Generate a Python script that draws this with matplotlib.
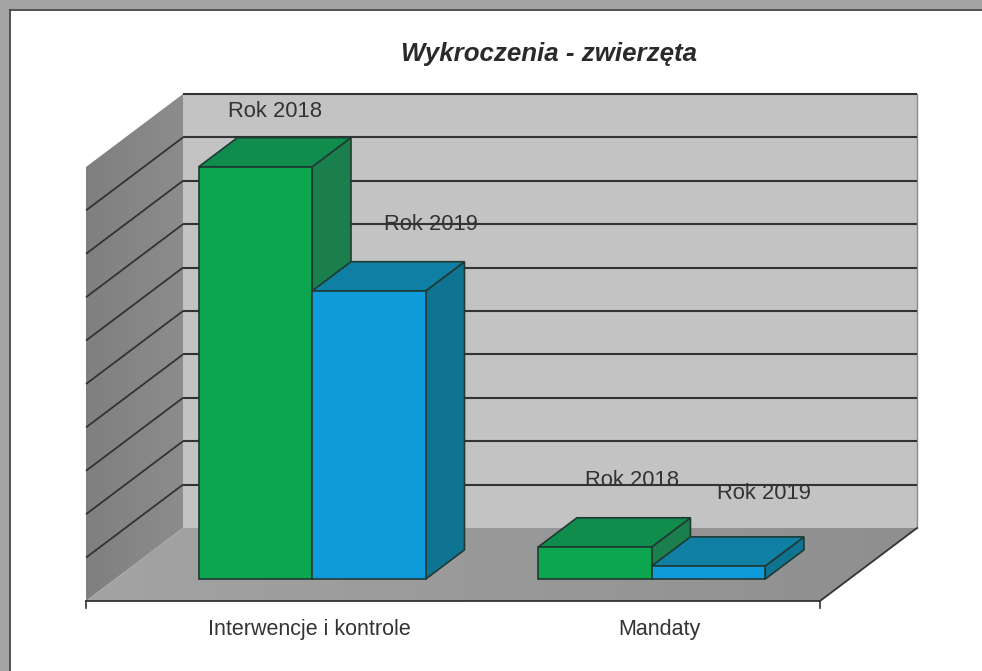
import numpy as np
import matplotlib
matplotlib.use("Agg")
import matplotlib.pyplot as plt
from matplotlib.patches import Rectangle, Polygon

# ---- data ----
categories = ["Interwencje i kontrole", "Mandaty"]
series_names = ["Rok 2018", "Rok 2019"]
rok_2018 = [950, 74]
rok_2019 = [664, 30]
y_ticks = list(range(0, 1001, 100))
title = "Wykroczenia - zwierzęta"

# ---- style ----
W, H = 982, 671
plt.rcParams["font.family"] = ["Liberation Sans", "DejaVu Sans"]
fig = plt.figure(figsize=(W / 100, H / 100), dpi=100, facecolor="white")
# front plane of the chart box: x 86..820 px, baseline 601 px, 434 px high
ax = fig.add_axes([86 / W, 1 - 601 / H, 734 / W, 434 / H])
ax.set_xlim(0, 2)
ax.set_ylim(0, 1000)
ax.axis("off")

px_x = 2 / 734          # data units per pixel
px_y = 1000 / 434
DX = 97 * px_x
DY = 73 * px_y
INK = "#333333"


def P(x, y, d=0.0):
    return (x + DX * d, y + DY * d)


def face(pts, color, z, edge=None, lw=1.2):
    ax.add_patch(Polygon(pts, closed=True, facecolor=color, edgecolor=edge or "none",
                         linewidth=lw, zorder=z, clip_on=False, joinstyle="miter"))


def gradient(pts, c0, c1, z):
    t = np.linspace(0, 1, 64)
    arr = (np.outer(t, np.ones(3)) * (np.array(c1) - np.array(c0)) + np.array(c0))[None, :, :]
    xs = [p[0] for p in pts]
    ys = [p[1] for p in pts]
    im = ax.imshow(arr, extent=(min(xs), max(xs), min(ys), max(ys)), origin="lower",
                   aspect="auto", zorder=z, interpolation="bilinear")
    im.set_clip_box(fig.bbox)
    im.set_clip_path(Polygon(pts, closed=True, transform=ax.transData))


# back wall
face([P(0, 0, 1), P(2, 0, 1), P(2, 1000, 1), P(0, 1000, 1)], "#c3c3c3", 1)
ax.plot(*zip(P(2, 0, 1), P(2, 1000, 1)), color="#8a8a8a", lw=1.0, zorder=1.5, clip_on=False)
# left wall
left_pts = [P(0, 0, 0), P(0, 0, 1), P(0, 1000, 1), P(0, 1000, 0)]
gradient(left_pts, (0.50, 0.50, 0.50), (0.55, 0.55, 0.55), 2)
# floor
floor_pts = [P(0, 0, 0), P(2, 0, 0), P(2, 0, 1), P(0, 0, 1)]
gradient(floor_pts, (0.64, 0.64, 0.64), (0.56, 0.56, 0.56), 2)
ax.set_xlim(0, 2)
ax.set_ylim(0, 1000)

# grid lines on the walls
for v in y_ticks[1:]:
    xs, ys = zip(P(2, v, 1), P(0, v, 1))
    ax.plot(xs, ys, color=INK, lw=1.5, zorder=3, clip_on=False, solid_capstyle="butt")
    if v < 1000:
        xs, ys = zip(P(0, v, 1), P(0, v, 0))
        ax.plot(xs, ys, color=INK, lw=1.3, zorder=3, clip_on=False, solid_capstyle="butt")

# floor edges and end ticks
ax.plot(*zip(P(0, 0), P(2, 0), P(2, 0, 1)), color=INK, lw=1.3, zorder=3, clip_on=False)
for xt in (0, 2):
    ax.plot([xt, xt], [0, -7 * px_y], color=INK, lw=1.2, zorder=3, clip_on=False)

# ---- bars ----
centers = [0.537, 1.462]
bar_w = 113.5 * px_x
D0, D1 = 0.30, 0.70
C18 = ("#0ca550", "#108c4c", "#1a7f4c")
C19 = ("#0f9ad9", "#0f80a3", "#0f7491")
EDGE = "#1f3a33"


def bar3d(left, value, cols, z):
    right = left + bar_w
    face([P(right, 0, D0), P(right, 0, D1), P(right, value, D1), P(right, value, D0)], cols[2], z, EDGE)
    face([P(left, value, D0), P(right, value, D0), P(right, value, D1), P(left, value, D1)], cols[1], z, EDGE)
    face([P(left, 0, D0), P(right, 0, D0), P(right, value, D0), P(left, value, D0)], cols[0], z + 0.1, EDGE)


z = 4
for c, a, b in zip(centers, rok_2018, rok_2019):
    bar3d(c - bar_w, a, C18, z)
    bar3d(c, b, C19, z + 1)
    z += 2

# ---- bar labels (offset px from the front-top centre of each bar) ----
label_off_18 = [(19.5, 55.5), (37, 66)]
label_off_19 = [(62, 66), (56, 73)]
for i, c in enumerate(centers):
    for left, val, off, name in ((c - bar_w, rok_2018[i], label_off_18[i], series_names[0]),
                                 (c, rok_2019[i], label_off_19[i], series_names[1])):
        x, y = P(left + bar_w / 2, val, D0)
        ax.annotate(name, (x, y), xytext=(off[0] * 0.72, off[1] * 0.72), textcoords="offset points",
                    ha="center", va="center", fontsize=15.8, color=INK, zorder=20,
                    annotation_clip=False)

# ---- category labels ----
label_x = [(309 - 86) * px_x, (659 - 86) * px_x]
for lx, name in zip(label_x, categories):
    ax.text(lx, -28 * px_y, name, ha="center", va="center", fontsize=15.5, color=INK, zorder=20)

fig.text(549 / W, 1 - 54 / H, title, ha="center", va="center", fontsize=18.6,
         fontweight="bold", fontstyle="italic", color="#2a2a2a")

# ---- scanned page border ----
fig.add_artist(Rectangle((0, 0), 9 / W, 1, transform=fig.transFigure, facecolor="#a3a3a3", edgecolor="none"))
fig.add_artist(Rectangle((0, 1 - 9 / H), 1, 9 / H, transform=fig.transFigure, facecolor="#a3a3a3", edgecolor="none"))
fig.add_artist(plt.Line2D([9.5 / W, 9.5 / W], [0, 1 - 9.5 / H], transform=fig.transFigure, color="#444444", lw=1.3))
fig.add_artist(plt.Line2D([9.5 / W, 1], [1 - 9.5 / H, 1 - 9.5 / H], transform=fig.transFigure, color="#444444", lw=1.3))

fig.savefig("out.png", dpi=100)
